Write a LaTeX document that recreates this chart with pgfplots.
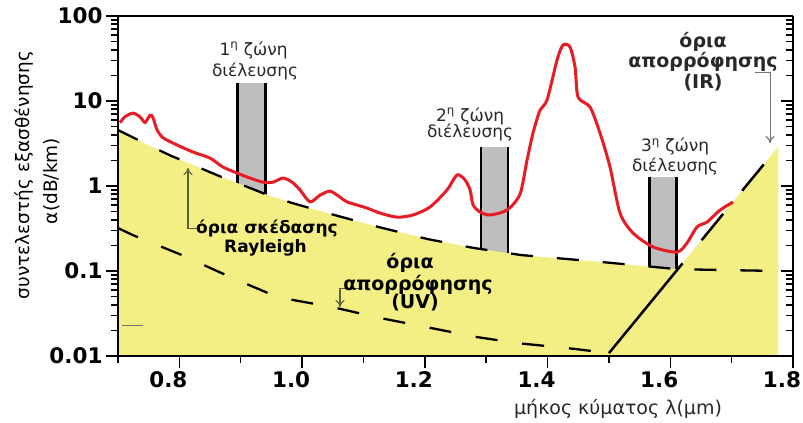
\documentclass[border=0pt]{standalone}
\usepackage{fontspec}
\setmainfont{DejaVu Sans}
\usepackage{pgfplots}
\pgfplotsset{compat=1.18}
\usetikzlibrary{arrows.meta}
\definecolor{fillyellow}{RGB}{244,239,132}
\definecolor{curvered}{RGB}{232,28,36}
\definecolor{bargray}{RGB}{190,190,190}
\definecolor{arrowc}{RGB}{95,95,60}
\definecolor{txt}{RGB}{40,40,40}
\newcommand{\fs}[1]{\fontsize{#1bp}{#1bp}\selectfont}
\begin{document}
\begin{tikzpicture}
\begin{axis}[
  name=main,
  scale only axis, width=675bp, height=340bp,
  xmin=0.7, xmax=1.8, ymin=0.01, ymax=100, ymode=log,
  axis x line*=bottom, axis y line*=left,
  axis line style={line width=1.8bp, black},
  tick align=outside,
  major tick length=12bp, minor tick length=7bp,
  tick style={black, line width=1.5bp},
  xtick={0.8,1.0,1.2,1.4,1.6,1.8},
  xticklabels={0.8,1.0,1.2,1.4,1.6,1.8},
  minor xtick={0.7,0.9,1.1,1.3,1.5,1.7},
  ytick={0.01,0.1,1,10,100},
  yticklabels={0.01,0.1,1,10,100},
  minor ytick={0.02,0.03,0.04,0.05,0.06,0.07,0.08,0.09,0.2,0.3,0.4,0.5,0.6,0.7,0.8,0.9,2,3,4,5,6,7,8,9,20,30,40,50,60,70,80,90},
  tick label style={font=\fs{21.5}\bfseries, text=black},
  x tick label style={xshift=-11bp},
  clip=false,
  axis on top,
]
% transmission windows (gray bars)
\addplot[fill=bargray, draw=none] coordinates {(0.8947,0.01) (0.8947,16.3) (0.9403,16.3) (0.9403,0.01)} -- cycle;
\addplot[fill=bargray, draw=none] coordinates {(1.2916,0.01) (1.2916,2.88) (1.3356,2.88) (1.3356,0.01)} -- cycle;
\addplot[fill=bargray, draw=none] coordinates {(1.5662,0.01) (1.5662,1.28) (1.6102,1.28) (1.6102,0.01)} -- cycle;
\addplot[black, line width=2.8bp] coordinates {(0.8947,0.01) (0.8947,16.3)};
\addplot[black, line width=2.8bp] coordinates {(0.9403,0.01) (0.9403,16.3)};
\addplot[black, line width=2.8bp] coordinates {(1.2916,0.01) (1.2916,2.88)};
\addplot[black, line width=2.8bp] coordinates {(1.3356,0.01) (1.3356,2.88)};
\addplot[black, line width=2.8bp] coordinates {(1.5662,0.01) (1.5662,1.28)};
\addplot[black, line width=2.8bp] coordinates {(1.6102,0.01) (1.6102,1.28)};
% yellow region (below Rayleigh and IR limits)
\addplot[fill=fillyellow, draw=none] coordinates {
 (0.7,0.01) (0.7,4.56) (0.744,3.17) (0.785,2.29) (0.822,1.77) (0.866,1.30) (0.904,1.02)
 (0.9445,0.78) (0.984,0.63) (1.046,0.47) (1.124,0.33) (1.204,0.238) (1.279,0.187)
 (1.357,0.154) (1.486,0.128) (1.612,0.105) (1.776,2.9) (1.776,0.01)} -- cycle;
% Rayleigh limit (dashed)
\addplot[black, line width=2.3bp, dash pattern=on 22bp off 24bp] coordinates {
 (0.7,4.56) (0.744,3.17) (0.785,2.29) (0.822,1.77) (0.866,1.30) (0.904,1.02)
 (0.9445,0.78) (0.984,0.63) (1.046,0.47) (1.124,0.33) (1.204,0.238) (1.279,0.187)
 (1.357,0.154) (1.486,0.128) (1.612,0.105) (1.776,0.100)};
% UV limit (dashed)
\addplot[black, line width=2.3bp, dash pattern=on 22bp off 25bp] coordinates {
 (0.7,0.32) (0.724,0.265) (0.804,0.154) (0.886,0.083) (0.961,0.049) (1.049,0.0377)
 (1.127,0.028) (1.285,0.0167) (1.350,0.0142) (1.445,0.0121) (1.5,0.0108)};
% IR limit
\addplot[black, line width=2.5bp] coordinates {(1.5,0.0108) (1.62,0.1229)};
\addplot[black, line width=2.5bp, dash pattern=on 34bp off 30bp, dash phase=34bp] coordinates {(1.62,0.1229) (1.776,2.9)};
% small gray mark
\addplot[black!55, line width=1.2bp] coordinates {(0.7065,0.023) (0.741,0.023)};
% measured attenuation (red)
\addplot[curvered, line width=3bp, smooth, tension=0.45] coordinates {
 (0.7033,5.56) (0.7114,6.53) (0.7244,7.2) (0.7359,6.5) (0.7440,5.6) (0.7522,6.8) (0.7570,6.4)
 (0.7635,4.6) (0.7733,3.7) (0.7962,3.04) (0.8222,2.51) (0.8499,2.13) (0.8711,1.67)
 (0.8939,1.42) (0.9151,1.24) (0.9363,1.11) (0.9526,1.11) (0.9689,1.24) (0.9836,1.11)
 (0.9966,0.90) (1.0129,0.65) (1.0292,0.78) (1.0455,0.87) (1.0618,0.74) (1.0732,0.65)
 (1.1058,0.55) (1.1270,0.48) (1.1547,0.43) (1.1808,0.456) (1.2085,0.566) (1.2362,0.90)
 (1.2525,1.35) (1.2655,1.18) (1.2737,0.90) (1.2786,0.6) (1.2900,0.494) (1.3063,0.456)
 (1.3340,0.522) (1.3551,0.80) (1.3666,2.02) (1.3763,4.2) (1.3877,7.8) (1.3992,10.3)
 (1.4155,30.4) (1.4252,45.6) (1.4366,43.2) (1.4448,25.1) (1.4497,11.1) (1.4692,8.5)
 (1.4855,4.2) (1.5018,1.67) (1.5181,0.48) (1.5393,0.28) (1.5719,0.192) (1.6110,0.167)
 (1.6273,0.214) (1.6436,0.33) (1.6599,0.377) (1.6811,0.52) (1.7023,0.648)};
% annotation arrows
\draw[arrowc, line width=1.1bp, -{To[length=7bp,width=9bp]}] (0.8336,0.32) -- (0.8141,0.32) -- (0.8141,1.63);
\draw[arrowc, line width=1.1bp, -{To[length=7bp,width=9bp]}] (1.0977,0.063) -- (1.0618,0.063) -- (1.0618,0.0377);
\draw[black!55, line width=1.1bp, -{To[length=7bp,width=9bp]}] (1.7381,21.9) -- (1.7626,21.9) -- (1.7626,3.2);
% texts
\node[rotate=90, text=black, font=\fs{18.5}] at (0.5468,1.347) {συντελεστής εξασθένησης};
\node[rotate=90, text=black, font=\fs{18.5}] at (0.5924,1.145) {α(dB/km)};
\node[text=txt, font=\fs{19}] at (1.5149,0.00238) {μήκος κύματος λ(μm)};
\node[text=txt, font=\fs{17}] at (0.9210,39.8) {1\textsuperscript{η} ζώνη};
\node[text=txt, font=\fs{17}] at (0.9233,22.5) {διέλευσης};
\node[text=txt, font=\fs{17}] at (1.2737,6.66) {2\textsuperscript{η} ζώνη};
\node[text=txt, font=\fs{17}] at (1.2737,4.21) {διέλευσης};
\node[text=txt, font=\fs{17}] at (1.6078,2.88) {3\textsuperscript{η} ζώνη};
\node[text=txt, font=\fs{17}] at (1.6078,1.72) {διέλευσης};
\node[text=txt, font=\fs{19}\bfseries] at (1.6534,49.4) {όρια};
\node[text=txt, font=\fs{19}\bfseries] at (1.6534,28.8) {απορρόφησης};
\node[text=txt, font=\fs{19}\bfseries] at (1.6534,16.7) {(IR)};
\node[text=black, font=\fs{17}\bfseries, inner sep=1bp] at (0.9428,0.314) {όρια σκέδασης};
\node[text=black, font=\fs{17}\bfseries, inner sep=1bp] at (0.9404,0.189) {Rayleigh};
\node[text=black, font=\fs{19}\bfseries] at (1.1759,0.124) {όρια};
\node[text=black, font=\fs{19}\bfseries] at (1.1889,0.0684) {απορρόφησης};
\node[text=black, font=\fs{19}\bfseries] at (1.1840,0.0431) {(UV)};
\end{axis}
\begin{axis}[
  scale only axis, width=675bp, height=340bp,
  xmin=0.7, xmax=1.8, ymin=0.01, ymax=100, ymode=log,
  axis x line*=top, axis y line*=right,
  axis line style={line width=1.8bp, black},
  tick align=inside,
  major tick length=12bp, minor tick length=7bp,
  tick style={black, line width=1.5bp},
  xtick=\empty,
  ytick={0.01,0.1,1,10,100},
  yticklabels={},
  minor ytick={0.02,0.03,0.04,0.05,0.06,0.07,0.08,0.09,0.2,0.3,0.4,0.5,0.6,0.7,0.8,0.9,2,3,4,5,6,7,8,9,20,30,40,50,60,70,80,90},
]
\end{axis}
\pgfresetboundingbox
\path[use as bounding box] ([shift={(-118bp,-67bp)}]main.south west) rectangle ([shift={(10bp,16bp)}]main.north east);
\end{tikzpicture}
\end{document}
